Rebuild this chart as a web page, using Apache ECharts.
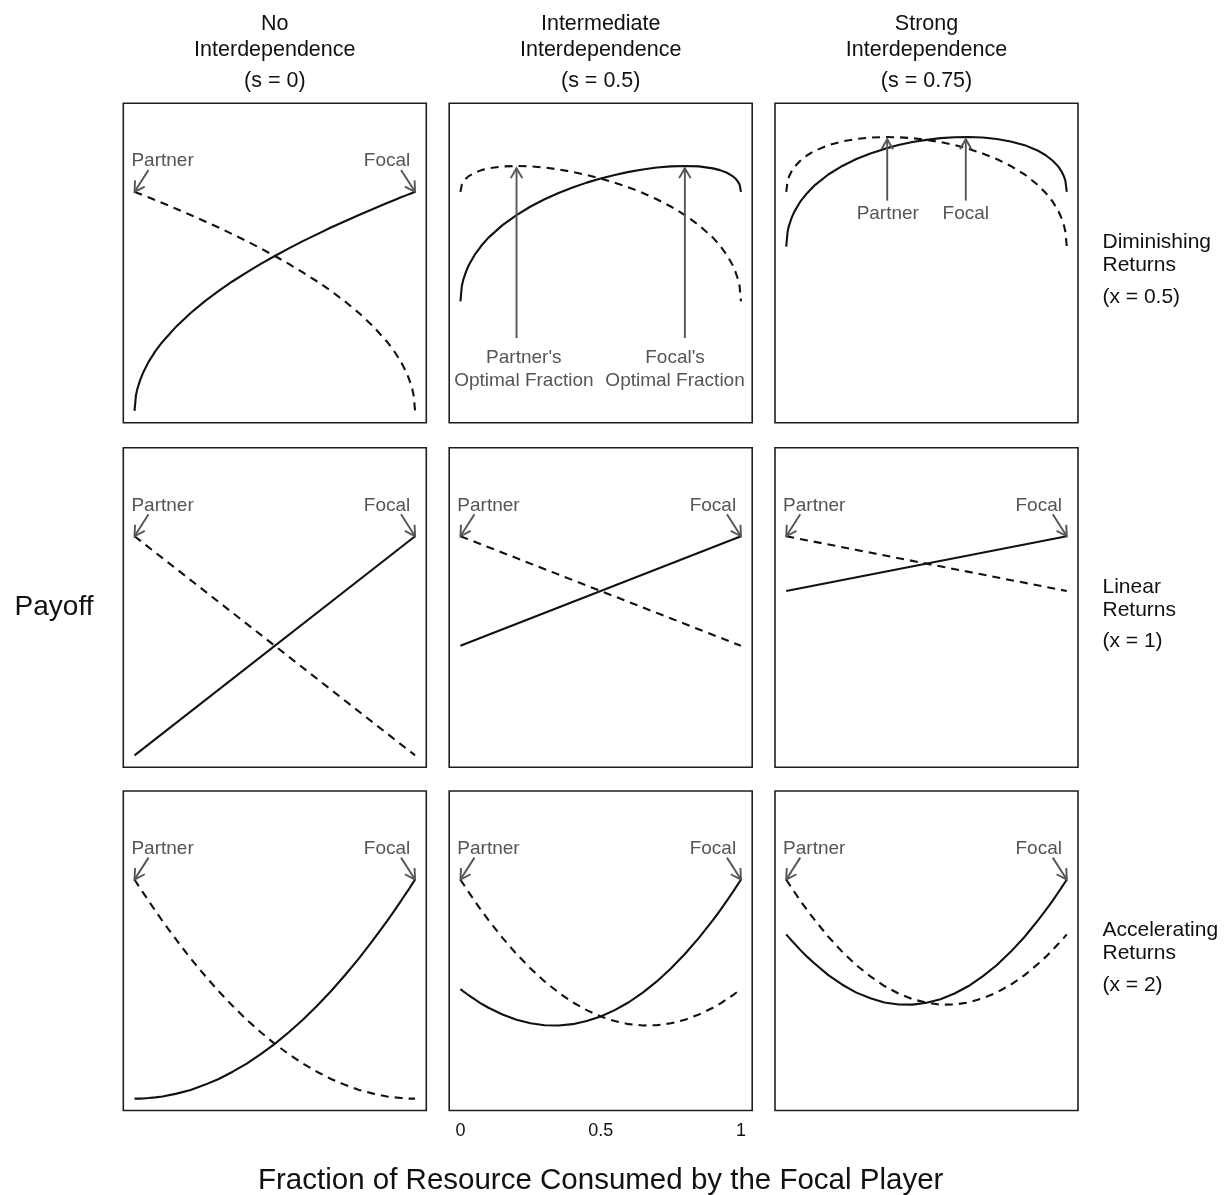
<!DOCTYPE html>
<html>
<head>
<meta charset="utf-8">
<script src="https://cdn.jsdelivr.net/npm/echarts@6/dist/echarts.min.js"></script>
<style>
html, body { margin: 0; padding: 0; background: #ffffff; }
#chart { width: 1225px; height: 1195px; }
</style>
</head>
<body>
<div id="chart"></div>
<script>
// ---------------- DATA ----------------
const fractions = [0, 0.005, 0.01, 0.02, 0.03, 0.05, 0.075, 0.1, 0.15, 0.2, 0.25, 0.3, 0.35, 0.4, 0.45, 0.5, 0.55, 0.6, 0.65, 0.7, 0.75, 0.8, 0.85, 0.9, 0.925, 0.95, 0.97, 0.98, 0.99, 0.995, 1];
const linearFractions = [0, 1];

// Diminishing returns (x = 0.5)
const focalDimS0 = [0, 0.071, 0.1, 0.141, 0.173, 0.224, 0.274, 0.316, 0.387, 0.447, 0.5, 0.548, 0.592, 0.632, 0.671, 0.707, 0.742, 0.775, 0.806, 0.837, 0.866, 0.894, 0.922, 0.949, 0.962, 0.975, 0.985, 0.99, 0.995, 0.997, 1];
const partnerDimS0 = [1, 0.997, 0.995, 0.99, 0.985, 0.975, 0.962, 0.949, 0.922, 0.894, 0.866, 0.837, 0.806, 0.775, 0.742, 0.707, 0.671, 0.632, 0.592, 0.548, 0.5, 0.447, 0.387, 0.316, 0.274, 0.224, 0.173, 0.141, 0.1, 0.071, 0];
const focalDimS05 = [0.5, 0.57, 0.598, 0.636, 0.666, 0.711, 0.755, 0.791, 0.848, 0.894, 0.933, 0.966, 0.995, 1.02, 1.042, 1.061, 1.077, 1.091, 1.102, 1.111, 1.116, 1.118, 1.116, 1.107, 1.099, 1.087, 1.072, 1.061, 1.045, 1.033, 1];
const partnerDimS05 = [1, 1.033, 1.045, 1.061, 1.072, 1.087, 1.099, 1.107, 1.116, 1.118, 1.116, 1.111, 1.102, 1.091, 1.077, 1.061, 1.042, 1.02, 0.995, 0.966, 0.933, 0.894, 0.848, 0.791, 0.755, 0.711, 0.666, 0.636, 0.598, 0.57, 0.5];
const focalDimS075 = [0.75, 0.819, 0.846, 0.884, 0.912, 0.955, 0.995, 1.028, 1.079, 1.118, 1.15, 1.175, 1.196, 1.214, 1.227, 1.237, 1.245, 1.249, 1.25, 1.248, 1.241, 1.23, 1.213, 1.186, 1.167, 1.142, 1.115, 1.096, 1.07, 1.051, 1];
const partnerDimS075 = [1, 1.051, 1.07, 1.096, 1.115, 1.142, 1.167, 1.186, 1.213, 1.23, 1.241, 1.248, 1.25, 1.249, 1.245, 1.237, 1.227, 1.214, 1.196, 1.175, 1.15, 1.118, 1.079, 1.028, 0.995, 0.955, 0.912, 0.884, 0.846, 0.819, 0.75];

// Linear returns (x = 1)
const focalLinS0 = [0, 1];
const partnerLinS0 = [1, 0];
const focalLinS05 = [0.5, 1];
const partnerLinS05 = [1, 0.5];
const focalLinS075 = [0.75, 1];
const partnerLinS075 = [1, 0.75];

// Accelerating returns (x = 2)
const focalAccS0 = [0, 0, 0, 0, 0.001, 0.003, 0.006, 0.01, 0.023, 0.04, 0.063, 0.09, 0.123, 0.16, 0.203, 0.25, 0.303, 0.36, 0.423, 0.49, 0.563, 0.64, 0.723, 0.81, 0.856, 0.903, 0.941, 0.96, 0.98, 0.99, 1];
const partnerAccS0 = [1, 0.99, 0.98, 0.96, 0.941, 0.903, 0.856, 0.81, 0.723, 0.64, 0.563, 0.49, 0.423, 0.36, 0.303, 0.25, 0.203, 0.16, 0.123, 0.09, 0.063, 0.04, 0.023, 0.01, 0.006, 0.003, 0.001, 0, 0, 0, 0];
const focalAccS05 = [0.5, 0.495, 0.49, 0.481, 0.471, 0.454, 0.433, 0.415, 0.384, 0.36, 0.344, 0.335, 0.334, 0.34, 0.354, 0.375, 0.404, 0.44, 0.484, 0.535, 0.594, 0.66, 0.734, 0.815, 0.858, 0.904, 0.941, 0.961, 0.98, 0.99, 1];
const partnerAccS05 = [1, 0.99, 0.98, 0.961, 0.941, 0.904, 0.858, 0.815, 0.734, 0.66, 0.594, 0.535, 0.484, 0.44, 0.404, 0.375, 0.354, 0.34, 0.334, 0.335, 0.344, 0.36, 0.384, 0.415, 0.433, 0.454, 0.471, 0.481, 0.49, 0.495, 0.5];
const focalAccS075 = [0.75, 0.743, 0.735, 0.721, 0.707, 0.679, 0.647, 0.618, 0.564, 0.52, 0.484, 0.458, 0.439, 0.43, 0.429, 0.438, 0.454, 0.48, 0.514, 0.558, 0.609, 0.67, 0.739, 0.818, 0.86, 0.904, 0.942, 0.961, 0.98, 0.99, 1];
const partnerAccS075 = [1, 0.99, 0.98, 0.961, 0.942, 0.904, 0.86, 0.818, 0.739, 0.67, 0.609, 0.558, 0.514, 0.48, 0.454, 0.438, 0.429, 0.43, 0.439, 0.458, 0.484, 0.52, 0.564, 0.618, 0.647, 0.679, 0.707, 0.721, 0.735, 0.743, 0.75];

// Texts
const columnTitles = [
  ['No', 'Interdependence', '(s = 0)'],
  ['Intermediate', 'Interdependence', '(s = 0.5)'],
  ['Strong', 'Interdependence', '(s = 0.75)']
];
const rowLabels = [
  ['Diminishing', 'Returns', '(x = 0.5)'],
  ['Linear', 'Returns', '(x = 1)'],
  ['Accelerating', 'Returns', '(x = 2)']
];
const xTickValues = [0, 0.5, 1];
const xTickLabels = ['0', '0.5', '1'];
const yAxisTitle = 'Payoff';
const xAxisTitle = 'Fraction of Resource Consumed by the Focal Player';

// Annotations (data coordinates)
const stdArrows = [[0.05, 1.1, 0, 1], [0.95, 1.1, 1, 1]];
const stdLabelPos = [[0.1, 1.14], [0.9, 1.14]];
const stdLabelText = ['Partner', 'Focal'];
const optArrows = [[0.2, 0.333, 0.2, 1.108], [0.8, 0.333, 0.8, 1.108]];
const optLabelPos = [[0.226, 0.245], [0.226, 0.138], [0.765, 0.245], [0.765, 0.138]];
const optLabelText = ["Partner's", 'Optimal Fraction', "Focal's", 'Optimal Fraction'];
const peakArrows = [[0.36, 0.96, 0.36, 1.24], [0.64, 0.96, 0.64, 1.24]];
const peakLabelPos = [[0.362, 0.9], [0.64, 0.9]];
const peakLabelText = ['Partner', 'Focal'];

// ---------------- LAYOUT ----------------
const FONT = 'Liberation Sans';
const GRAY = '#555555';
const INK = '#111111';
const colLeft = [123.3, 449.2, 775];
const rowTop = [103.3, 447.7, 791];
const panelW = 303;
const panelH = 319.5;
const X_MIN = -0.04, X_MAX = 1.04;
const Y_MIN = -0.054, Y_MAX = 1.404;

const panels = [
  [
    { x: fractions, focal: focalDimS0, partner: partnerDimS0, arrows: stdArrows, labels: stdLabelPos, texts: stdLabelText, size: 19 },
    { x: fractions, focal: focalDimS05, partner: partnerDimS05, arrows: optArrows, labels: optLabelPos, texts: optLabelText, size: 19 },
    { x: fractions, focal: focalDimS075, partner: partnerDimS075, arrows: peakArrows, labels: peakLabelPos, texts: peakLabelText, size: 19 }
  ],
  [
    { x: linearFractions, focal: focalLinS0, partner: partnerLinS0, arrows: stdArrows, labels: stdLabelPos, texts: stdLabelText, size: 19 },
    { x: linearFractions, focal: focalLinS05, partner: partnerLinS05, arrows: stdArrows, labels: stdLabelPos, texts: stdLabelText, size: 19 },
    { x: linearFractions, focal: focalLinS075, partner: partnerLinS075, arrows: stdArrows, labels: stdLabelPos, texts: stdLabelText, size: 19 }
  ],
  [
    { x: fractions, focal: focalAccS0, partner: partnerAccS0, arrows: stdArrows, labels: stdLabelPos, texts: stdLabelText, size: 19 },
    { x: fractions, focal: focalAccS05, partner: partnerAccS05, arrows: stdArrows, labels: stdLabelPos, texts: stdLabelText, size: 19 },
    { x: fractions, focal: focalAccS075, partner: partnerAccS075, arrows: stdArrows, labels: stdLabelPos, texts: stdLabelText, size: 19 }
  ]
];

function zip(xs, ys) { return xs.map((x, i) => [x, ys[i]]); }

function renderArrow(params, api) {
  const p0 = api.coord([api.value(0), api.value(1)]);
  const p1 = api.coord([api.value(2), api.value(3)]);
  const ang = Math.atan2(p1[1] - p0[1], p1[0] - p0[0]);
  const L = 11.5, a = Math.PI / 6;
  const h1 = [p1[0] - L * Math.cos(ang - a), p1[1] - L * Math.sin(ang - a)];
  const h2 = [p1[0] - L * Math.cos(ang + a), p1[1] - L * Math.sin(ang + a)];
  return {
    type: 'group',
    children: [
      { type: 'line', shape: { x1: p0[0], y1: p0[1], x2: p1[0], y2: p1[1] }, style: { stroke: GRAY, lineWidth: 1.9 } },
      { type: 'polyline', shape: { points: [h1, p1, h2] }, style: { stroke: GRAY, lineWidth: 1.9, fill: null } }
    ]
  };
}

function makeLabelRenderer(texts, size) {
  return function (params, api) {
    const p = api.coord([api.value(0), api.value(1)]);
    return {
      type: 'text', x: p[0], y: p[1],
      style: { text: texts[params.dataIndex], fill: GRAY, font: size + 'px "' + FONT + '"', align: 'center', verticalAlign: 'middle' }
    };
  };
}

const grids = [], xAxes = [], yAxes = [], series = [];
for (let r = 0; r < 3; r++) {
  for (let c = 0; c < 3; c++) {
    const idx = r * 3 + c;
    const p = panels[r][c];
    grids.push({
      left: colLeft[c], top: rowTop[r], width: panelW, height: panelH,
      show: true, borderColor: '#1e1e1e', borderWidth: 1.6, backgroundColor: 'rgba(0,0,0,0)'
    });
    const showTicks = (r === 2 && c === 1);
    xAxes.push({
      gridIndex: idx, type: 'value', min: X_MIN, max: X_MAX,
      axisLine: { show: false }, axisTick: { show: false }, splitLine: { show: false },
      axisLabel: showTicks ? {
        show: true, customValues: xTickValues,
        formatter: function (v) { const k = xTickValues.indexOf(v); return k >= 0 ? xTickLabels[k] : ''; },
        fontFamily: FONT, fontSize: 18, color: INK, margin: 12
      } : { show: false }
    });
    yAxes.push({
      gridIndex: idx, type: 'value', min: Y_MIN, max: Y_MAX,
      axisLine: { show: false }, axisTick: { show: false }, splitLine: { show: false }, axisLabel: { show: false }
    });
    series.push({
      type: 'line', xAxisIndex: idx, yAxisIndex: idx, data: zip(p.x, p.focal),
      symbol: 'none', silent: true, lineStyle: { color: INK, width: 2.1 }, z: 3
    });
    series.push({
      type: 'line', xAxisIndex: idx, yAxisIndex: idx, data: zip(p.x, p.partner),
      symbol: 'none', silent: true, lineStyle: { color: INK, width: 2.1, type: [8, 6] }, z: 3
    });
    series.push({
      type: 'custom', xAxisIndex: idx, yAxisIndex: idx, data: p.arrows,
      renderItem: renderArrow, silent: true, z: 4
    });
    series.push({
      type: 'custom', xAxisIndex: idx, yAxisIndex: idx, data: p.labels,
      renderItem: makeLabelRenderer(p.texts, p.size), silent: true, z: 4
    });
  }
}

const graphics = [];
const titleY = [24.5, 50.5, 81];
for (let c = 0; c < 3; c++) {
  const cx = colLeft[c] + panelW / 2;
  columnTitles[c].forEach((t, i) => {
    graphics.push({ type: 'text', x: cx, y: titleY[i],
      style: { text: t, fill: INK, font: '21.5px "' + FONT + '"', align: 'center', verticalAlign: 'middle' } });
  });
}
const rowOffsets = [-20.5, 2.5, 34];
for (let r = 0; r < 3; r++) {
  const cy = rowTop[r] + panelH / 2;
  rowLabels[r].forEach((t, i) => {
    graphics.push({ type: 'text', x: 1102.5, y: cy + rowOffsets[i],
      style: { text: t, fill: INK, font: '21px "' + FONT + '"', align: 'left', verticalAlign: 'middle' } });
  });
}
graphics.push({ type: 'text', x: 54, y: 607,
  style: { text: yAxisTitle, fill: INK, font: '28px "' + FONT + '"', align: 'center', verticalAlign: 'middle' } });
graphics.push({ type: 'text', x: colLeft[1] + panelW / 2, y: 1180.5,
  style: { text: xAxisTitle, fill: INK, font: '29.5px "' + FONT + '"', align: 'center', verticalAlign: 'middle' } });

const chart = echarts.init(document.getElementById('chart'), null, { renderer: 'canvas' });
chart.setOption({
  animation: false,
  backgroundColor: '#ffffff',
  grid: grids,
  xAxis: xAxes,
  yAxis: yAxes,
  series: series,
  graphic: graphics
});
</script>
</body>
</html>
